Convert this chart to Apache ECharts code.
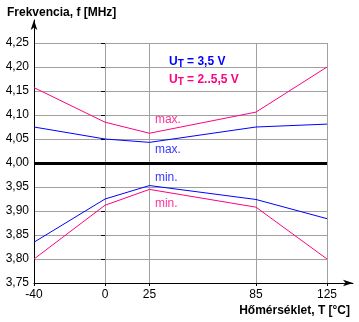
<!DOCTYPE html>
<html><head><meta charset="utf-8">
<script src="https://cdn.jsdelivr.net/npm/echarts@6/dist/echarts.min.js"></script>
<style>html,body{margin:0;padding:0;background:#fff}#c{width:359px;height:322px}</style>
</head><body><div id="c"></div>
<script>
const temps = [-40, 0, 25, 85, 125];
const blueMax = [4.075, 4.050, 4.043, 4.075, 4.081];
const blueMin = [3.835, 3.925, 3.953, 3.924, 3.884];
const pinkMax = [4.157, 4.085, 4.062, 4.106, 4.200];
const pinkMin = [3.800, 3.912, 3.945, 3.908, 3.800];
const refLine = 4.00;
const yMin = 3.75, yMax = 4.25, yStep = 0.05;
const BLUE = '#0000ff', PINK = '#ff0080';
const FONT = '"Liberation Sans", Arial, sans-serif';

const pts = arr => temps.map((t, i) => [t, arr[i]]);
function labelSeries(name, val, color, dy) {
  return {
    type: 'scatter', xAxisIndex: 0, yAxisIndex: 0, silent: true,
    symbolSize: 1, itemStyle: {color: 'rgba(0,0,0,0)'},
    data: [[25, val]],
    label: {show: true, formatter: name, position: 'right', distance: 5,
      offset: [0, dy], color: color, fontSize: 12, fontFamily: FONT},
    z: 5
  };
}
const lineS = (arr, color) => ({type: 'line', data: pts(arr), showSymbol: false,
  symbol: 'none', lineStyle: {color: color, width: 1}, itemStyle: {color: color},
  animation: false, z: 3});

const chart = echarts.init(document.getElementById('c'), null, {renderer: 'canvas'});
chart.setOption({
  animation: false,
  textStyle: {fontFamily: FONT},
  title: [
    {text: 'Frekvencia, f [MHz]', left: 2, top: 2,
      textStyle: {fontSize: 12, fontWeight: 'bold', color: '#000', fontFamily: FONT}},
    {text: 'Hőmérséklet, T [°C]', right: 4, top: 300,
      textStyle: {fontSize: 12, fontWeight: 'bold', color: '#000', fontFamily: FONT}},
    {text: '{a|U}{s|T}{a| = 3,5 V}', left: 164, top: 49,
      textStyle: {rich: {a: {fontSize: 12, fontWeight: 'bold', color: BLUE, fontFamily: FONT},
        s: {fontSize: 10, color: BLUE, fontFamily: FONT, padding: [5, 0, 0, 0]}}}},
    {text: '{a|U}{s|T}{a| = 2..5,5 V}', left: 164, top: 67,
      textStyle: {rich: {a: {fontSize: 12, fontWeight: 'bold', color: PINK, fontFamily: FONT},
        s: {fontSize: 10, color: PINK, fontFamily: FONT, padding: [5, 0, 0, 0]}}}}
  ],
  grid: [
    {left: 34, right: 32, top: 43, bottom: 39},
    {left: 34, right: 6, top: 20, bottom: 39}
  ],
  xAxis: [
    {type: 'value', gridIndex: 0, min: -40, max: 125,
      axisLine: {show: false},
      axisTick: {show: true, length: 3, lineStyle: {color: '#000'}, customValues: temps},
      axisLabel: {customValues: temps, color: '#000', fontSize: 12, margin: 6, fontFamily: FONT},
      splitLine: {show: true, lineStyle: {color: '#a0a0a0', width: 1}}},
    {type: 'value', gridIndex: 1, min: 0, max: 1,
      axisLine: {show: true, lineStyle: {color: '#000', width: 1}, symbol: ['none', 'arrow'], symbolSize: [5, 10]},
      axisTick: {show: false}, axisLabel: {show: false}, splitLine: {show: false}}
  ],
  yAxis: [
    {type: 'value', gridIndex: 0, min: yMin, max: yMax, interval: yStep,
      axisLine: {show: false},
      axisTick: {show: true, length: 4, lineStyle: {color: '#000'}},
      axisLabel: {color: '#000', fontSize: 12, margin: 5, fontFamily: FONT,
        formatter: v => v.toFixed(2).replace('.', ',')},
      splitLine: {show: true, lineStyle: {color: '#a0a0a0', width: 1}}},
    {type: 'value', gridIndex: 1, min: 0, max: 1,
      axisLine: {show: true, lineStyle: {color: '#000', width: 1}, symbol: ['none', 'arrow'], symbolSize: [5, 10]},
      axisTick: {show: false}, axisLabel: {show: false}, splitLine: {show: false}}
  ],
  series: [
    {type: 'line', data: [], xAxisIndex: 0, yAxisIndex: 0,
      markLine: {silent: true, symbol: 'none', label: {show: false},
        lineStyle: {color: '#000', width: 3, type: 'solid'}, data: [{yAxis: refLine}]}, z: 4},
    lineS(blueMax, BLUE),
    lineS(blueMin, BLUE),
    lineS(pinkMax, PINK),
    lineS(pinkMin, PINK),
    labelSeries('max.', pinkMax[2], PINK, -14),
    labelSeries('max.', blueMax[2], BLUE, 7),
    labelSeries('min.', blueMin[2], BLUE, -8),
    labelSeries('min.', pinkMin[2], PINK, 14)
  ]
});
</script></body></html>
